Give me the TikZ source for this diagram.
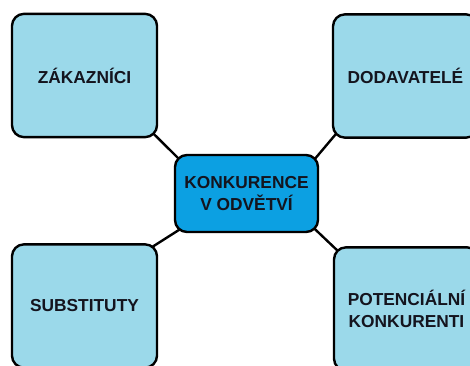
\documentclass[tikz,border=0pt]{standalone}
\usepackage{fontspec}
\setmainfont{Liberation Sans}
\usetikzlibrary{backgrounds}
\definecolor{outerblue}{RGB}{155,217,234}
\definecolor{centerblue}{RGB}{12,160,226}
\definecolor{txt}{RGB}{20,20,30}
\begin{document}
\begin{tikzpicture}[x=0.75pt,y=-0.75pt,
  box/.style={draw=black, line width=1.8pt, rounded corners=9pt, fill=outerblue,
    minimum width=108.75pt, minimum height=92.5pt, inner sep=0pt, align=center,
    text=txt, font=\fontsize{13}{16}\selectfont\bfseries},
  cbox/.style={box, fill=centerblue, minimum width=107.25pt, minimum height=57.75pt},
  link/.style={draw=black, line width=1.8pt, shorten <=-6pt, shorten >=-6pt}]
\useasboundingbox (0,0) rectangle (470,365);
\node[box] (zak) at (84.5,75.5) {ZÁKAZNÍCI};
\node[box] (dod) at (405.5,76) {DODAVATELÉ};
\node[box] (sub) at (84.5,306) {SUBSTITUTY};
\node[box] (pot) at (406.5,309) {POTENCIÁLNÍ\\KONKURENTI};
\node[cbox] (kon) at (246.5,193.5) {KONKURENCE\\V ODVĚTVÍ};
\begin{scope}[on background layer]
\draw[link] (kon.north west) -- (zak.south east);
\draw[link] (kon.north east) -- (dod.south west);
\draw[link] (kon.south west) -- (sub.north east);
\draw[link] (kon.south east) -- (pot.north west);
\end{scope}
\end{tikzpicture}
\end{document}
